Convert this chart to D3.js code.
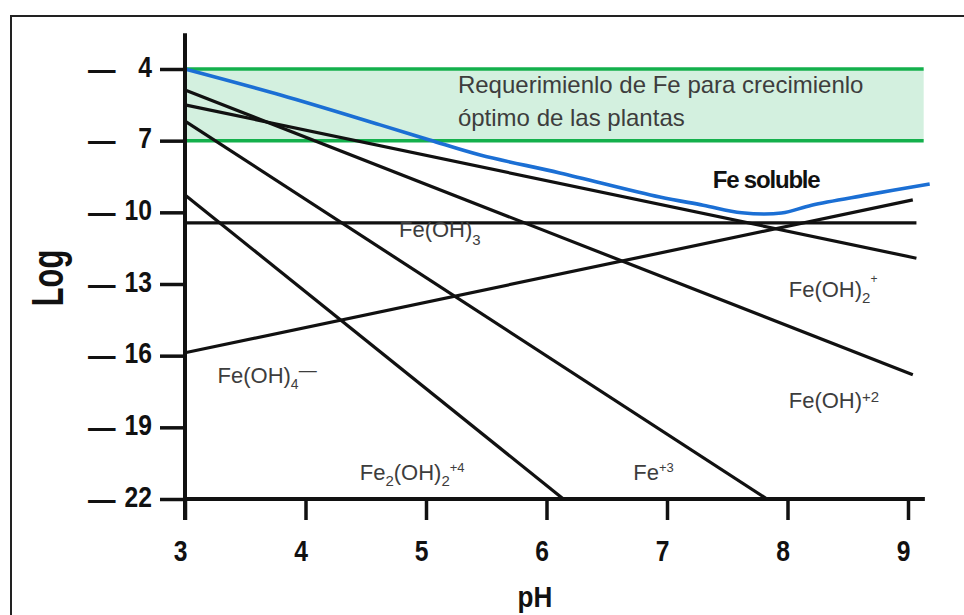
<!DOCTYPE html>
<html>
<head>
<meta charset="utf-8">
<script src="https://cdn.jsdelivr.net/npm/d3@7"></script>
<style>
  html, body { margin: 0; padding: 0; background: #fff; }
  svg { display: block; font-family: "Liberation Sans", Arial, Helvetica, sans-serif; }
</style>
</head>
<body>
<svg id="chart" width="964" height="615"></svg>
<script>
// Axis ticks: pH and log activity
const phTicks = [3, 4, 5, 6, 7, 8, 9];
const logTicks = [-4, -7, -10, -13, -16, -19, -22];

// Range of Fe needed for optimal plant growth (log units)
const bandLog = [-4, -7];
const bandPH = [3, 9.13];

// Activity lines of the Fe(III) species: [pH, log activity]
const fe3 = [[3, -6.18], [7.83, -22]];
const feOHplus2 = [[3, -4.88], [9.04, -16.8]];
const feOH2plus = [[3, -5.5], [9.07, -11.92]];
const feOH3 = [[3, -10.44], [9.07, -10.44]];
const feOH4minus = [[3, -15.88], [9.04, -9.48]];
const fe2OH2 = [[3, -9.27], [6.14, -22]];

// Total soluble Fe
const feSoluble = [
  [3.0, -4.0], [3.8, -5.1], [4.62, -6.34], [5.03, -6.97], [5.45, -7.6],
  [6.11, -8.35], [6.94, -9.36], [7.3, -9.7], [7.62, -10.02], [7.95, -10.03],
  [8.2, -9.7], [8.66, -9.27], [9.18, -8.81]
];

const svg = d3.select("#chart");
const x = d3.scaleLinear().domain([3, 9]).range([185, 908]);
const y = d3.scaleLinear().domain([-4, -22]).range([69, 499]);

const INK = "#111";
const LABEL = "#3d3d3d";

// outer frame
svg.append("path")
  .attr("d", "M11,615 V16 H964")
  .attr("fill", "none").attr("stroke", "#222").attr("stroke-width", 2);

// requirement band
svg.append("rect")
  .attr("x", x(bandPH[0])).attr("y", y(bandLog[0]))
  .attr("width", x(bandPH[1]) - x(bandPH[0]))
  .attr("height", y(bandLog[1]) - y(bandLog[0]))
  .attr("fill", "#d3f0df");
svg.selectAll("line.band").data(bandLog).join("line")
  .attr("class", "band")
  .attr("x1", x(bandPH[0])).attr("x2", x(bandPH[1]))
  .attr("y1", d => y(d)).attr("y2", d => y(d))
  .attr("stroke", "#14b04c").attr("stroke-width", 3.5);

const bandText = svg.append("text")
  .attr("fill", LABEL).attr("font-size", 24);
bandText.append("tspan").attr("x", x(5.265)).attr("y", y(bandLog[0]) + 24)
  .text("Requerimienlo de Fe para crecimienlo");
bandText.append("tspan").attr("x", x(5.265)).attr("y", y(bandLog[0]) + 57)
  .text("óptimo de las plantas");

const line = d3.line().x(d => x(d[0])).y(d => y(d[1]));

// Fe(OH)3 line first, with a white gap behind its label
svg.append("path").attr("d", line(feOH3))
  .attr("fill", "none").attr("stroke", INK).attr("stroke-width", 3.2);

function richLabel(px, py, parts, size, color, knockout) {
  const t = svg.append("text").attr("x", px).attr("y", py)
    .attr("font-size", size).attr("fill", color);
  let prev = 0;
  parts.forEach(p => {
    const shift = p.shift || 0;
    const ts = t.append("tspan").text(p.t).attr("dy", shift - prev);
    if (p.size) ts.attr("font-size", p.size);
    prev = shift;
  });
  if (knockout) {
    const b = t.node().getBBox();
    svg.insert("rect", "text")
      .attr("x", b.x - knockout[0]).attr("y", b.y)
      .attr("width", b.width + knockout[0] + knockout[1]).attr("height", b.height)
      .attr("fill", "#fff");
  }
  return t;
}

richLabel(x(4.776), y(-11.03), [{t: "Fe(OH)"}, {t: "3", shift: 8, size: 15}], 22, LABEL, [12, 30]);

// remaining species lines
[fe3, feOHplus2, feOH2plus, feOH4minus, fe2OH2].forEach(s => {
  svg.append("path").attr("d", line(s))
    .attr("fill", "none").attr("stroke", INK).attr("stroke-width", 3.2);
});

// soluble Fe curve
svg.append("path")
  .attr("d", line.curve(d3.curveCatmullRom.alpha(0.5))(feSoluble))
  .attr("fill", "none").attr("stroke", "#1b6fd4").attr("stroke-width", 3.6)
  .attr("stroke-linejoin", "round");

// species labels
richLabel(x(8.01), y(-13.54), [{t: "Fe(OH)"}, {t: "2", shift: 6, size: 15}, {t: "+", shift: -14, size: 12}], 22, LABEL);
richLabel(x(8.01), y(-18.18), [{t: "Fe(OH)"}, {t: "+2", shift: -6, size: 15}], 22, LABEL);
richLabel(x(3.27), y(-17.14), [{t: "Fe(OH)"}, {t: "4", shift: 6, size: 14}, {t: "—", shift: -7, size: 18}], 22, LABEL);
richLabel(x(4.45), y(-21.2), [{t: "Fe"}, {t: "2", shift: 6, size: 15}, {t: "(OH)"}, {t: "2", shift: 6, size: 15}, {t: "+4", shift: -8, size: 13}], 22, LABEL);
richLabel(x(6.72), y(-21.2), [{t: "Fe"}, {t: "+3", shift: -8, size: 13}], 22, LABEL);

svg.append("text")
  .attr("x", x(7.38)).attr("y", y(-8.98))
  .attr("font-size", 24).attr("font-weight", "bold")
  .attr("letter-spacing", -1.2).attr("fill", INK)
  .text("Fe soluble");

// axes
const xEnd = 9.14;
svg.append("line")
  .attr("x1", x(3)).attr("x2", x(3))
  .attr("y1", y(-2.5)).attr("y2", y(-22) + 21)
  .attr("stroke", INK).attr("stroke-width", 4);
svg.append("line")
  .attr("x1", x(3)).attr("x2", x(xEnd))
  .attr("y1", y(-22)).attr("y2", y(-22))
  .attr("stroke", INK).attr("stroke-width", 4);

const xAxis = svg.append("g")
  .attr("transform", `translate(0,${y(-22)})`)
  .call(d3.axisBottom(x).tickValues(phTicks).tickSize(21).tickFormat(d3.format("d")));
xAxis.select(".domain").remove();
xAxis.selectAll(".tick line").attr("stroke", INK).attr("stroke-width", 3.5);
xAxis.selectAll(".tick text")
  .attr("x", null).attr("y", null).attr("dy", null)
  .attr("transform", "translate(-5,62) scale(0.85,1)")
  .attr("font-size", 29).attr("font-weight", "bold")
  .attr("font-family", "'Liberation Sans', Arial, sans-serif")
  .attr("fill", INK);

const yAxis = svg.append("g")
  .attr("transform", `translate(${x(3)},0)`)
  .call(d3.axisLeft(y).tickValues(logTicks).tickSize(25).tickFormat(d => Math.abs(d)));
yAxis.select(".domain").remove();
yAxis.selectAll(".tick line").attr("stroke", INK).attr("stroke-width", 3.5);
yAxis.selectAll(".tick text")
  .attr("x", null).attr("dy", null)
  .attr("text-anchor", "end")
  .attr("transform", "translate(-33,7) scale(0.85,1)")
  .attr("font-size", 29).attr("font-weight", "bold")
  .attr("font-family", "'Liberation Sans', Arial, sans-serif")
  .attr("fill", INK);
yAxis.selectAll(".tick").append("text")
  .attr("text-anchor", "start")
  .attr("transform", "translate(-97,10) scale(0.95,1)")
  .attr("font-size", 29).attr("font-weight", "bold")
  .attr("font-family", "'Liberation Sans', Arial, sans-serif")
  .attr("fill", INK)
  .text("—");

// axis titles
svg.append("text")
  .attr("transform", `translate(${(x(3) + x(xEnd)) / 2 - 20},607) scale(0.9,1)`)
  .attr("text-anchor", "middle")
  .attr("font-size", 29).attr("font-weight", "bold").attr("fill", INK)
  .text("pH");
svg.append("text")
  .attr("transform", "translate(63,278) rotate(-90) scale(0.7,1)")
  .attr("text-anchor", "middle")
  .attr("font-size", 44).attr("font-weight", "bold").attr("fill", INK)
  .text("Log");
</script>
</body>
</html>
